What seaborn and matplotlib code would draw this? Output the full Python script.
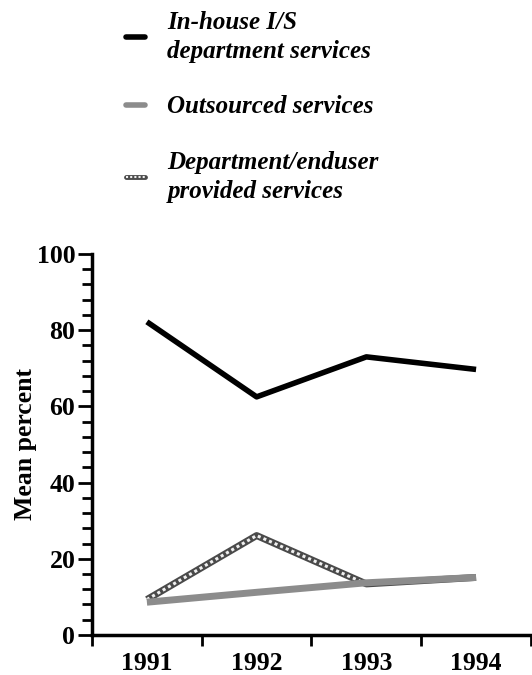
import numpy as np
import pandas as pd
import matplotlib.pyplot as plt
from matplotlib.lines import Line2D
from matplotlib.ticker import MultipleLocator, FixedLocator
from matplotlib.font_manager import FontProperties
import seaborn as sns

sns.set_style("ticks", {'axes.edgecolor': 'black', 'text.color': 'black',
                        'axes.labelcolor': 'black', 'xtick.color': 'black',
                        'ytick.color': 'black'})
plt.rcParams['font.family'] = ['Liberation Serif', 'DejaVu Serif']

years = ['1991', '1992', '1993', '1994']
inhouse = [82.2, 62.5, 73.0, 69.7]
outsourced = [8.6, 11.2, 13.7, 15.1]
enduser = [9.3, 26.1, 13.4, 15.1]
labels = ['In-house I/S\ndepartment services',
          'Outsourced services',
          'Department/enduser\nprovided services']

df = pd.DataFrame({'year': years, 'inhouse': inhouse,
                   'outsourced': outsourced, 'enduser': enduser})

fig = plt.figure(figsize=(5.32, 6.75), dpi=100)
ax = fig.add_axes([0.173, 0.0593, 0.825, 0.5644])

# department/enduser line - dark base with white dots on top (hatched look)
sns.lineplot(data=df, x='year', y='enduser', ax=ax, color='#4a4a4a', lw=5,
             solid_capstyle='butt')
sns.lineplot(data=df, x='year', y='enduser', ax=ax, color='#f0f0f0', lw=2.2,
             linestyle=(0, (1, 1)))
# outsourced
sns.lineplot(data=df, x='year', y='outsourced', ax=ax, color='#8c8c8c', lw=5,
             solid_capstyle='butt')
# in-house
sns.lineplot(data=df, x='year', y='inhouse', ax=ax, color='black', lw=4,
             solid_capstyle='butt')

ax.set_xlim(-0.5, 3.5)
ax.set_ylim(0, 100)
ax.yaxis.set_major_locator(MultipleLocator(20))
ax.yaxis.set_minor_locator(MultipleLocator(4))
ax.xaxis.set_minor_locator(FixedLocator([-0.5, 0.5, 1.5, 2.5, 3.5]))
ax.tick_params(axis='x', which='major', length=0, pad=12)
ax.tick_params(axis='x', which='minor', length=8, width=2, direction='out')
ax.tick_params(axis='y', which='major', length=10, width=2, pad=2)
ax.tick_params(axis='y', which='minor', length=7, width=2)
tick_fp = FontProperties(family='Liberation Serif', weight='bold', size=18.5)
for t in ax.get_xticklabels() + ax.get_yticklabels():
    t.set_fontproperties(tick_fp)
ax.set_xlabel('')
ax.set_ylabel('Mean percent', fontproperties=tick_fp, labelpad=0)
sns.despine(ax=ax)
for s in ['left', 'bottom']:
    ax.spines[s].set_linewidth(2.5)

h1 = Line2D([], [], color='black', lw=4)
h2 = Line2D([], [], color='#8c8c8c', lw=4)
h3a = Line2D([], [], color='#4a4a4a', lw=3.5)
h3b = Line2D([], [], color='#f0f0f0', lw=1.5, linestyle=(0, (1, 1)))
leg_fp = FontProperties(family='Liberation Serif', weight='bold',
                        style='italic', size=18)
leg = fig.legend([h1, h2, (h3a, h3b)], labels, loc='upper left',
                 bbox_to_anchor=(0.195, 1.017), frameon=False, handlelength=0.75,
                 handletextpad=0.9, labelspacing=1.3, prop=leg_fp)
for t in leg.get_texts():
    t.set_linespacing(1.32)
    t.set_color('black')

fig.savefig('out.png', dpi=100)
